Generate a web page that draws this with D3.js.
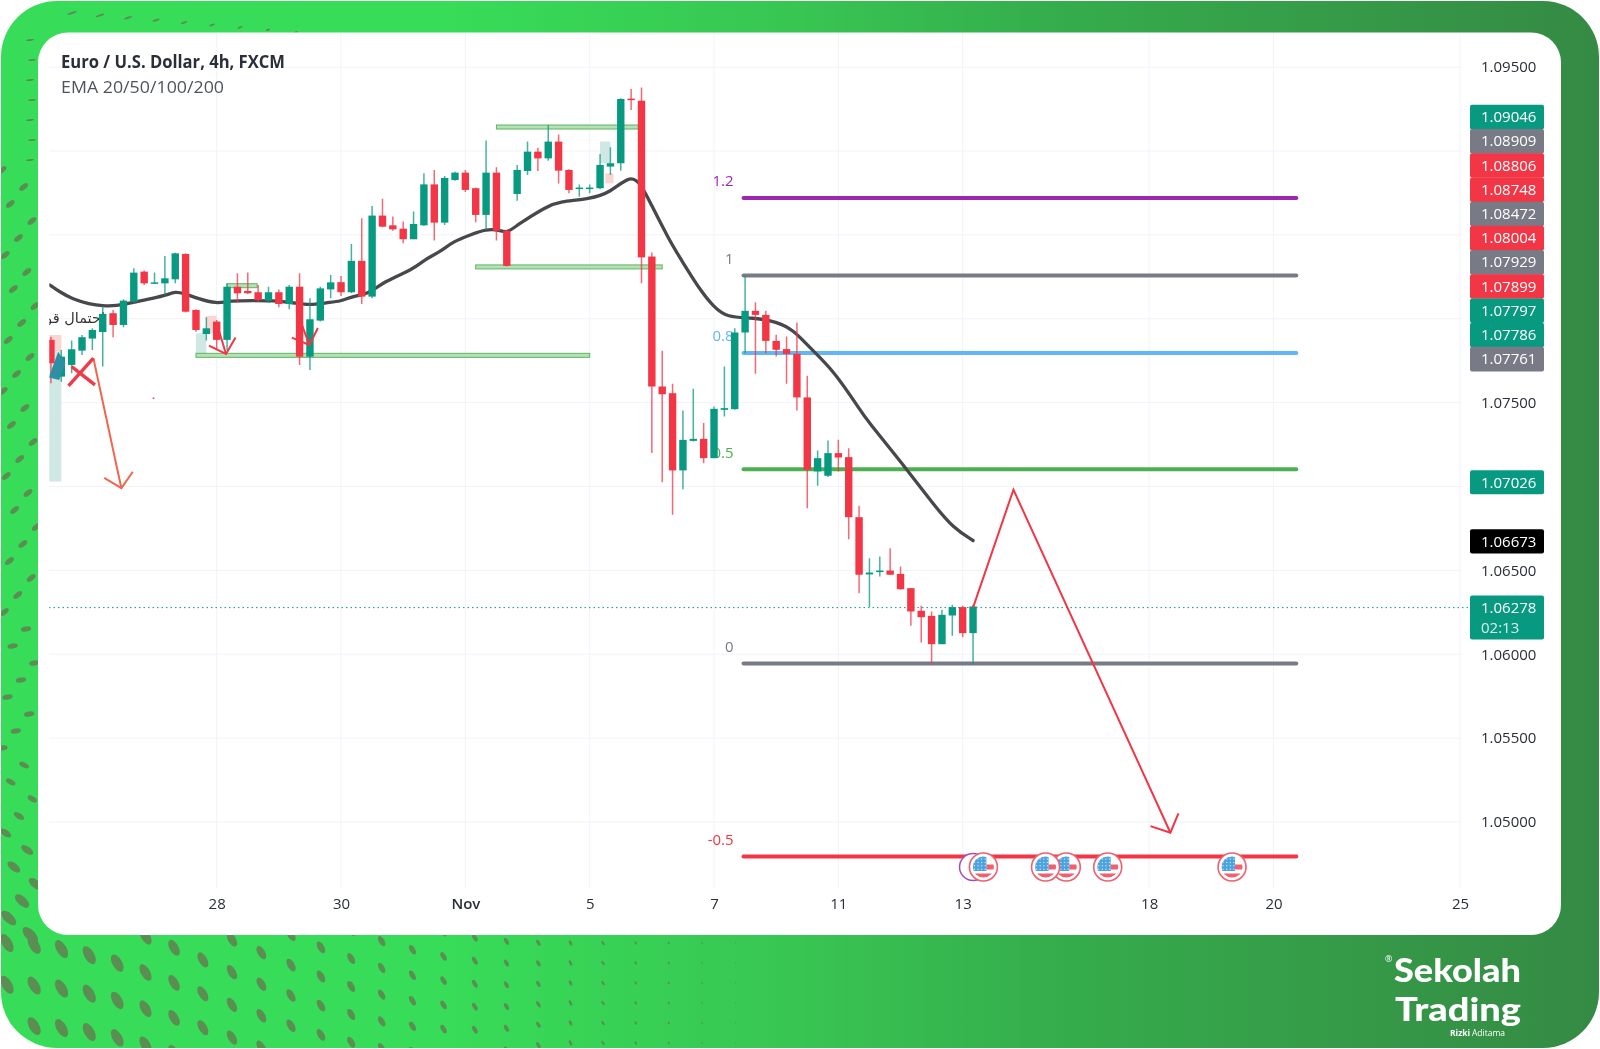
<!DOCTYPE html>
<html lang="en">
<head>
<meta charset="UTF-8">
<title>Euro / U.S. Dollar, 4h</title>
<script src="https://d3js.org/d3.v7.min.js"></script>
<style>
html, body { margin: 0; padding: 0; background: #fff; }
svg { display: block; filter: blur(0.55px); }
text { font-family: "Open Sans", "Noto Sans", sans-serif; }
</style>
</head>
<body>
<script>
// bars are numbered in 4h steps, bar 0 sits on the "28" tick
var barIdx = d3.range(-16, 74);
var opens = [1.07874,1.07655,1.07725,1.07810,1.07882,1.07921,1.08033,1.07963,1.08102,1.08281,1.08211,1.08211,1.08235,1.08386,1.08052,1.07909,
  1.07983,1.07874,1.08191,1.08166,1.08158,1.08108,1.08158,1.08088,1.08191,1.07774,1.07989,1.08175,1.08218,1.08158,1.08345,1.08132,
  1.08615,1.08557,1.08537,1.08474,1.08557,1.08801,1.08573,1.08827,1.08871,1.08778,1.08619,1.08871,1.08525,1.08744,1.08881,1.08996,
  1.08956,1.09056,1.08887,1.08774,1.08774,1.08778,1.08907,1.08927,1.09312,1.09300,1.08371,1.07596,1.07556,1.07096,1.07272,1.07284,
  1.07169,1.07457,1.07461,1.07918,1.08047,1.08023,1.07868,1.07819,1.07791,1.07531,1.07090,1.07064,1.07199,1.07175,1.06817,1.06476,
  1.06491,1.06499,1.06479,1.06394,1.06259,1.06229,1.06060,1.06231,1.06281,1.06126];
var highs = [1.07893,1.07814,1.07870,1.07903,1.07943,1.08076,1.08052,1.08116,1.08301,1.08287,1.08275,1.08374,1.08394,1.08390,1.08056,1.08009,
  1.07993,1.08211,1.08271,1.08275,1.08201,1.08191,1.08175,1.08201,1.08271,1.08122,1.08191,1.08261,1.08255,1.08446,1.08599,1.08672,
  1.08716,1.08609,1.08579,1.08639,1.08867,1.08887,1.08851,1.08877,1.08887,1.08782,1.09062,1.08903,1.08529,1.08917,1.09056,1.09020,
  1.09155,1.09099,1.08891,1.08801,1.08801,1.08982,1.09022,1.09314,1.09369,1.09379,1.08395,1.07809,1.07612,1.07453,1.07582,1.07378,
  1.07477,1.07715,1.07944,1.08256,1.08099,1.08047,1.07904,1.07894,1.07977,1.07660,1.07215,1.07274,1.07278,1.07228,1.06885,1.06573,
  1.06583,1.06632,1.06523,1.06394,1.06289,1.06255,1.06265,1.06295,1.06289,1.06295];
var lows = [1.07615,1.07625,1.07675,1.07784,1.07814,1.07715,1.07890,1.07949,1.08092,1.08201,1.08211,1.08142,1.08211,1.08037,1.07923,1.07870,
  1.07814,1.07814,1.08096,1.08148,1.08102,1.08096,1.08068,1.08056,1.07725,1.07695,1.07983,1.08122,1.08136,1.08152,1.08088,1.08122,
  1.08545,1.08525,1.08450,1.08474,1.08553,1.08466,1.08559,1.08823,1.08756,1.08575,1.08529,1.08466,1.08311,1.08704,1.08857,1.08881,
  1.08942,1.08807,1.08748,1.08728,1.08748,1.08772,1.08857,1.08883,1.09244,1.08212,1.07199,1.07026,1.06832,1.06984,1.07268,1.07139,
  1.07169,1.07417,1.07457,1.07795,1.07672,1.07795,1.07775,1.07612,1.07453,1.06871,1.07004,1.07056,1.07090,1.06686,1.06364,1.06281,
  1.06464,1.06474,1.06384,1.06170,1.06070,1.05947,1.06060,1.06110,1.06102,1.05937];
var closes = [1.07735,1.07774,1.07818,1.07890,1.07933,1.08029,1.07963,1.08108,1.08275,1.08211,1.08217,1.08241,1.08390,1.08042,1.07933,1.07943,
  1.07874,1.08191,1.08152,1.08152,1.08112,1.08158,1.08088,1.08191,1.07774,1.07997,1.08181,1.08217,1.08158,1.08345,1.08132,1.08615,
  1.08549,1.08533,1.08474,1.08565,1.08801,1.08573,1.08839,1.08871,1.08768,1.08619,1.08871,1.08525,1.08315,1.08887,1.08996,1.08956,
  1.09056,1.08883,1.08768,1.08782,1.08782,1.08917,1.08927,1.09310,1.09308,1.08366,1.07596,1.07550,1.07096,1.07278,1.07284,1.07169,
  1.07463,1.07467,1.07918,1.08047,1.08023,1.07868,1.07815,1.07791,1.07531,1.07100,1.07169,1.07199,1.07173,1.06817,1.06474,1.06487,
  1.06499,1.06474,1.06388,1.06255,1.06221,1.06060,1.06235,1.06281,1.06126,1.06285];

// EMA
var emaIdx = [-16.1,-15.2,-13.9,-12.3,-11,-9.7,-8.1,-6.1,-4.8,-4,-3.2,-1.9,0,1.3,3.5,5.5,7.4,9,10.6,12,13,14.8,16.1,19,20,21.6,22.8,24.5,26,27.3,28,29,31.9,33.1,36,38,39.9,40.9,41.8,43.66,45.04,46.65,47.94,49.23,51.8,54.05,55.66,57.27,59.5,62.1,62.74,66.28,69.2,71.1,73];
var emaVal = [1.08201,1.08162,1.08116,1.08088,1.08076,1.08076,1.08096,1.08122,1.08142,1.08162,1.08152,1.08122,1.08088,1.08108,1.08108,1.08108,1.08096,1.08080,1.08096,1.08104,1.08132,1.08152,1.08221,1.08295,1.08351,1.08400,1.08460,1.08500,1.08535,1.08529,1.08509,1.08559,1.08672,1.08698,1.08714,1.08752,1.08857,1.08807,1.08698,1.08470,1.08331,1.08172,1.08073,1.08007,1.08007,1.07983,1.07934,1.07825,1.07695,1.07457,1.07397,1.07129,1.06891,1.06752,1.06678];

var xTickBars = [0,12,24,36,48,60,72,90,102,120];
var xTickLabels = ["28","30","Nov","5","7","11","13","18","20","25"];
var priceTicks = [1.095,1.09,1.085,1.08,1.075,1.07,1.065,1.06,1.055,1.05];

var fibLevels = ["1.2","1","0.8","0.5","0","-0.5"];
var fibPrices = [1.08720,1.08258,1.07796,1.07103,1.05945,1.04795];
var fibColors = ["#9c27b0","#787b86","#64b5f6","#4caf50","#787b86","#f23645"];
var fibStart = 50.85, fibEnd = 104.2;

var boxStart = [27,25,-2,1];
var boxEnd = [40.7,43,36,3.9];
var boxPrice = [1.09143,1.08309,1.07782,1.08197];

var tealZones = [[-16.7,-15,1.07804,1.07030],[-2,-1,1.07913,1.07784],[37,38,1.09056,1.08927]];
var pinkZones = [[-16.7,-15,1.07903,1.07804],[-1,0,1.08017,1.07913],[37.5,38.3,1.08867,1.08807]];

var stackLabels = [1.09046,1.08909,1.08806,1.08748,1.08472,1.08004,1.07929,1.07899,1.07797,1.07786,1.07761];
var stackColors = ["#089981","#787b86","#f23645","#f23645","#787b86","#f23645","#787b86","#f23645","#089981","#089981","#787b86"];
var lastPrice = 1.06278, lastCountdown = "02:13";
var fibLabel = 1.07026, emaLabel = 1.06673;

var waveIdx = [73,76.9,92.05];
var wavePrice = [1.06278,1.06981,1.04936];
var eventBars = [82,74,80,86,98];
var moonBar = 73;

var W = 1600, H = 1049;
var x = d3.scaleLinear().domain([0,120]).range([216.7,1460]);
var y = d3.scaleLinear().domain([1.05,1.09]).range([822,151]);
var fmt = d3.format(".5f");

// stacked price labels: pushed up from the lowest one when they collide
var labelH = 24.2, labelX = 1470, labelW = 74;
var stackY = stackLabels.map(function(d){return y(d);});
for (var s=stackY.length-2; s>=0; s--){
  stackY[s] = Math.min(stackY[s],stackY[s+1]-labelH);
}
var labelYs = stackY.concat([y(fibLabel),y(emaLabel),y(lastPrice)]);

var svg = d3.select("body").append("svg").attr("width",W).attr("height",H);
var defs = svg.append("defs");
var grad = defs.append("linearGradient").attr("id","bg");
[[0,"#37dd58"],[0.28,"#37dc58"],[0.5,"#38c552"],[0.65,"#35ae4c"],[1,"#358a44"]].forEach(function(s){
  grad.append("stop").attr("offset",s[0]).attr("stop-color",s[1]);
});
defs.append("clipPath").attr("id","outer").append("rect")
  .attr("x",1).attr("y",1).attr("width",W-2).attr("height",H-2).attr("rx",56);
defs.append("clipPath").attr("id","pane").append("rect")
  .attr("x",49.3).attr("y",33).attr("width",1420).attr("height",850);

// frame with its dot pattern
var frame = svg.append("g").attr("clip-path","url(#outer)");
frame.append("rect").attr("width",W).attr("height",H).attr("fill","url(#bg)");

var dotColor = "#5b8e52";
function dot(px,py,ry,rot){
  frame.append("ellipse").attr("rx",ry*0.5).attr("ry",ry)
    .attr("transform","translate("+px+","+py+") rotate("+rot+")")
    .attr("fill",dotColor);
}
// bottom band: rows run down to the right, get closer and fade out
for (var c=0; c<29; c++){
  var px = 7+c*(27+c*0.14);
  var t = Math.min(px/550,1);
  var spacing = 42-22*t;
  var phase = 2.5*(1-Math.cos(Math.PI*t));
  for (var r=-8; r<6; r++){
    var py = 943+spacing*(r+phase);
    var ry = Math.min(10,11.5*Math.pow(Math.max(0,1-px/800),1.1));
    if (py>930 && py<1056 && ry>0.4) dot(px,py,ry,-30);
  }
}
// left strip
for (var k=0; k<46; k++){
  var ly = 170+k*17, lx = 2+((k*0.618)%1)*35;
  var rot = ly<620 ? 50 : (ly<760 ? 80 : -65+(ly-760)*0.12);
  dot(lx,ly,ly<800 ? 5.2 : 5.2+(ly-800)*0.035,rot);
}
// thin streaks at the top left
for (k=0; k<9; k++){
  frame.append("ellipse").attr("rx",5-k*0.4).attr("ry",1)
    .attr("transform","translate("+(72+k*28)+","+(13+k*2.4)+") rotate(-18)").attr("fill",dotColor);
}
for (k=0; k<7; k++){
  frame.append("ellipse").attr("rx",4).attr("ry",0.9)
    .attr("transform","translate("+(30+(k%2)*2)+","+(40+k*20)+") rotate(-8)").attr("fill",dotColor);
}

// white panel
svg.append("rect").attr("x",38).attr("y",32.5).attr("width",1523).attr("height",902.5).attr("rx",30).attr("fill","#fff");

// grid
svg.append("g").selectAll("line").data(xTickBars).enter().append("line")
  .attr("x1",function(d){return x(d);}).attr("x2",function(d){return x(d);})
  .attr("y1",33).attr("y2",888).attr("stroke","#f0f3fa").attr("stroke-width",1);
svg.append("g").selectAll("line").data(priceTicks).enter().append("line")
  .attr("x1",49).attr("x2",1462)
  .attr("y1",function(d){return y(d);}).attr("y2",function(d){return y(d);})
  .attr("stroke","#f0f3fa").attr("stroke-width",1);

// axes
var xAxis = svg.append("g").attr("transform","translate(0,888)")
  .call(d3.axisBottom(x).tickValues(xTickBars).tickSize(0).tickPadding(10)
    .tickFormat(function(d,i){return xTickLabels[i];}));
xAxis.select(".domain").remove();
xAxis.selectAll("text").attr("font-size",15).attr("fill","#2a2e39")
  .style("font-family",'"Open Sans", sans-serif')
  .attr("font-weight",function(d,i){return xTickLabels[i]=="Nov"?600:400;});

// a price tick that a label box sits on is not shown
var shownTicks = priceTicks.filter(function(p){
  return !labelYs.some(function(ly){return Math.abs(ly-y(p))<20;});
});
var yAxis = svg.append("g").attr("transform","translate(1481,0)")
  .call(d3.axisRight(y).tickValues(shownTicks).tickSize(0).tickPadding(0).tickFormat(fmt));
yAxis.select(".domain").remove();
yAxis.selectAll("text").attr("font-size",15).attr("fill","#2a2e39")
  .style("font-family",'"Open Sans", sans-serif');

var chart = svg.append("g").attr("clip-path","url(#pane)");

// pale zones behind the bars
function zone(z,color){
  chart.append("rect").attr("x",x(z[0])).attr("width",x(z[1])-x(z[0]))
    .attr("y",y(z[2])).attr("height",y(z[3])-y(z[2])).attr("fill",color);
}
tealZones.forEach(function(z){zone(z,"#cfe8e4");});
pinkZones.forEach(function(z){zone(z,"#fbd5d3");});

// fib labels go under the bars
chart.append("g").selectAll("text").data(fibLevels).enter().append("text")
  .attr("x",function(d){return x(fibStart)-10;})
  .attr("y",function(d,i){return y(fibPrices[i])-11.5;})
  .attr("text-anchor","end").attr("font-size",15)
  .attr("fill",function(d,i){return fibColors[i];})
  .text(function(d){return d;});
chart.append("g").selectAll("line").data(fibPrices).enter().append("line")
  .attr("x1",x(fibStart)).attr("x2",x(fibEnd))
  .attr("y1",function(d){return y(d);}).attr("y2",function(d){return y(d);})
  .attr("stroke",function(d,i){return fibColors[i];}).attr("stroke-width",4).attr("stroke-linecap","round");

// green level boxes
chart.append("g").selectAll("rect").data(boxPrice).enter().append("rect")
  .attr("x",function(d,i){return x(boxStart[i]);})
  .attr("width",function(d,i){return x(boxEnd[i])-x(boxStart[i]);})
  .attr("y",function(d){return y(d)-2;}).attr("height",4)
  .attr("fill","#b7e0b9").attr("stroke","#5cb660").attr("stroke-width",1);

// last price dotted line
chart.append("line").attr("x1",49).attr("x2",1470)
  .attr("y1",y(lastPrice)).attr("y2",y(lastPrice))
  .attr("stroke","#089981").attr("stroke-width",1).attr("stroke-dasharray","1.5,3");

// note on the chart, cut by the pane edge and covered by the bars
chart.append("text").attr("x",105).attr("y",y(1.08)+4).attr("text-anchor","end")
  .attr("font-size",14.5).style("font-family",'"DejaVu Sans", sans-serif').attr("fill","#333")
  .text("احتمال قوی");

// EMA
var line = d3.line().x(function(d){return x(d);}).y(function(d,i){return y(emaVal[i]);}).curve(d3.curveBasis);
chart.append("path").attr("d",line(emaIdx)).attr("fill","none")
  .attr("stroke","#47474c").attr("stroke-width",3.3).attr("stroke-linecap","round");

// candles
var bars = chart.append("g").selectAll("g").data(barIdx).enter().append("g");
function col(i){return closes[i]>=opens[i]?"#089981":"#f23645";}
bars.append("line")
  .attr("x1",function(d){return x(d);}).attr("x2",function(d){return x(d);})
  .attr("y1",function(d,i){return y(highs[i]);}).attr("y2",function(d,i){return y(lows[i]);})
  .attr("stroke",function(d,i){return col(i);}).attr("stroke-width",1.5).attr("stroke-opacity",0.75);
bars.append("rect")
  .attr("x",function(d){return x(d)-3.7;}).attr("width",7.4)
  .attr("y",function(d,i){return y(Math.max(opens[i],closes[i]));})
  .attr("height",function(d,i){return Math.max(1.5,Math.abs(y(opens[i])-y(closes[i])));})
  .attr("fill",function(d,i){return col(i);});

// blue marker over the leftmost bars
chart.append("path").attr("fill","#2c8fa3")
  .attr("d",d3.line()([[x(-16.2),y(1.07650)],[x(-15.3),y(1.07804)],[x(-14.6),y(1.07735)],[x(-15.2),y(1.07635)]])+"Z");

// hand drawn arrows
function arrow(xs,ys,color,w,len){
  var pts = xs.map(function(d,i){return [x(d),y(ys[i])];});
  var n = pts.length, tip = pts[n-1], prev = pts[n-2];
  var back = Math.atan2(prev[1]-tip[1],prev[0]-tip[0]);
  var a = 47*Math.PI/180;
  var wing = function(s){return [tip[0]+len*Math.cos(back+s*a),tip[1]+len*Math.sin(back+s*a)];};
  var g = chart.append("g").attr("fill","none").attr("stroke",color).attr("stroke-width",w).attr("stroke-linejoin","miter");
  g.append("path").attr("d",d3.line()(pts));
  g.append("path").attr("d",d3.line()([wing(1),tip,wing(-1)]));
}
arrow(waveIdx,wavePrice,"#f23645",2,21);
arrow([-11.9,-9.2],[1.07765,1.06990],"#f0674f",2,20);
arrow([0,0.9],[1.07973,1.07790],"#f23645",2,19);
arrow([7.7,8.94],[1.08052,1.07844],"#f23645",2,19);

// red cross
var cross = chart.append("g").attr("stroke","#ee3b4b").attr("stroke-width",3.4);
cross.append("path").attr("d",d3.line()([[x(-14.3),y(1.07600)],[x(-11.9),y(1.07765)]]));
cross.append("path").attr("d",d3.line()([[x(-14),y(1.07715)],[x(-11.75),y(1.07606)]]));
chart.append("circle").attr("cx",x(-6.1)).attr("cy",y(1.07526)).attr("r",1).attr("fill","#ee5a6a");

// economic event badges below the -0.5 line
var evY = 867;
svg.append("circle").attr("cx",x(moonBar)).attr("cy",evY).attr("r",13.5).attr("fill","#fff")
  .attr("stroke","#a24bc4").attr("stroke-width",1.5);
eventBars.forEach(function(b,n){
  var id = "flag"+n;
  defs.append("clipPath").attr("id",id).append("circle").attr("r",10.5);
  var g = svg.append("g").attr("transform","translate("+x(b)+","+evY+")");
  g.append("circle").attr("r",14).attr("fill","#fff").attr("stroke","#f0606e").attr("stroke-width",1.6);
  var f = g.append("g").attr("clip-path","url(#"+id+")");
  f.append("rect").attr("x",-11).attr("y",-11).attr("width",22).attr("height",22).attr("fill","#fff");
  f.append("rect").attr("x",3).attr("y",-2.5).attr("width",9).attr("height",5).attr("fill","#f0606e");
  f.append("rect").attr("x",-11).attr("y",6.5).attr("width",22).attr("height",5).attr("fill","#f0606e");
  f.append("rect").attr("x",-11).attr("y",-11).attr("width",14).attr("height",15).attr("fill","#4ba3e0");
  for (var i=0; i<4; i++) for (var j=0; j<4; j++){
    f.append("circle").attr("cx",-9+i*3.6).attr("cy",-8+j*3.4).attr("r",0.7).attr("fill","#cfe6f7");
  }
});

var lab = svg.append("g");
function priceLabel(py,h,color,txt,txt2){
  lab.append("rect").attr("x",labelX).attr("y",py-12).attr("width",labelW).attr("height",h)
    .attr("rx",2).attr("fill",color);
  lab.append("text").attr("x",labelX+11).attr("y",py+5.4).attr("font-size",15).attr("fill","#fff").text(txt);
  if (txt2) lab.append("text").attr("x",labelX+11).attr("y",py+25).attr("font-size",15).attr("fill","#d8f0ec").text(txt2);
}
stackLabels.forEach(function(d,i){priceLabel(stackY[i],labelH+0.4,stackColors[i],fmt(d));});
priceLabel(y(fibLabel),labelH,"#089981",fmt(fibLabel));
priceLabel(y(emaLabel),labelH,"#000",fmt(emaLabel));
priceLabel(y(lastPrice),44,"#089981",fmt(lastPrice),lastCountdown);

// chart title
svg.append("text").attr("x",61).attr("y",68).attr("font-size",17).attr("font-weight",700)
  .attr("textLength",224).attr("lengthAdjust","spacingAndGlyphs").attr("fill","#2a2e39")
  .text("Euro / U.S. Dollar, 4h, FXCM");
svg.append("text").attr("x",61).attr("y",92.5).attr("font-size",17)
  .attr("textLength",163).attr("lengthAdjust","spacingAndGlyphs").attr("fill","#50535e")
  .text("EMA 20/50/100/200");

// logo
var logo = svg.append("g").attr("fill","#fff");
logo.append("text").attr("x",1394).attr("y",982).attr("font-size",33).attr("font-weight",900)
  .style("font-family","Lato, sans-serif").attr("textLength",127).attr("lengthAdjust","spacingAndGlyphs").text("Sekolah");
logo.append("text").attr("x",1395).attr("y",1021).attr("font-size",33).attr("font-weight",900)
  .style("font-family","Lato, sans-serif").attr("textLength",126).attr("lengthAdjust","spacingAndGlyphs").text("Trading");
logo.append("text").attr("x",1385).attr("y",962).attr("font-size",9).text("®");
logo.append("text").attr("x",1450).attr("y",1036).attr("font-size",8.5).attr("font-weight",700).text("Rizki");
logo.append("text").attr("x",1472).attr("y",1036).attr("font-size",8.5).text("Aditama");
</script>
</body>
</html>
